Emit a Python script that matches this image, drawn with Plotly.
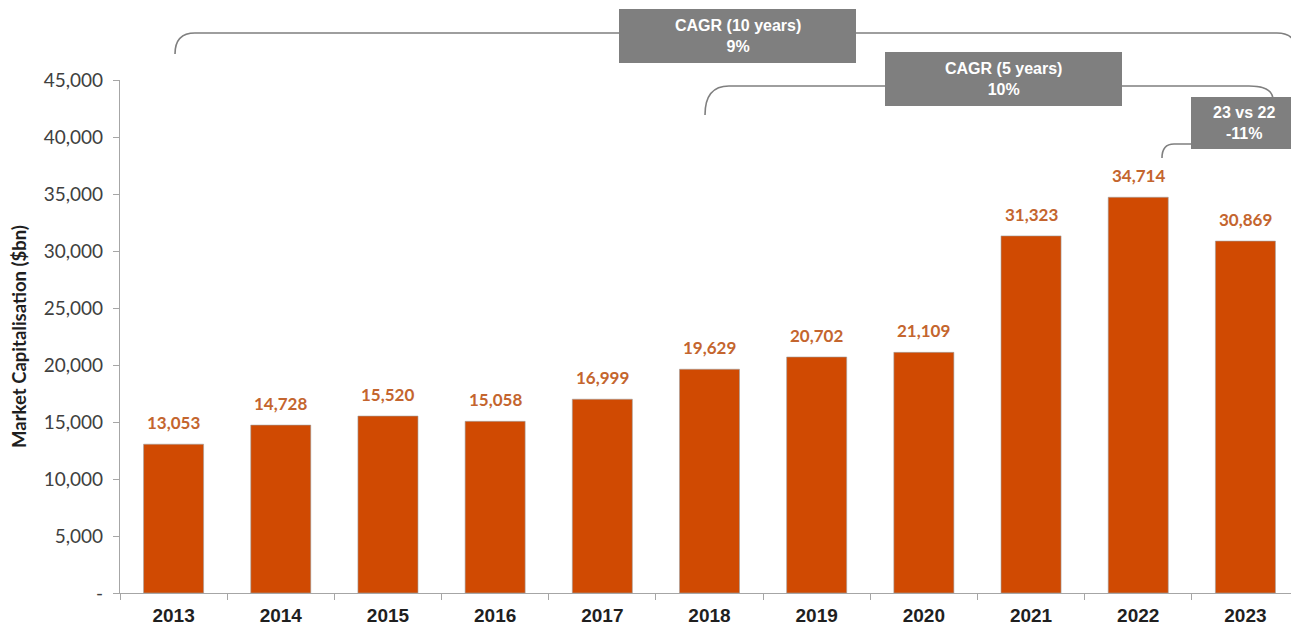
import plotly.graph_objects as go

years = ["2013", "2014", "2015", "2016", "2017", "2018", "2019", "2020", "2021", "2022", "2023"]
market_cap = [13053, 14728, 15520, 15058, 16999, 19629, 20702, 21109, 31323, 34714, 30869]
y_ticks = [0, 5000, 10000, 15000, 20000, 25000, 30000, 35000, 40000, 45000]
y_tick_text = ["-", "5,000", "10,000", "15,000", "20,000", "25,000", "30,000", "35,000", "40,000", "45,000"]
box_titles = ["CAGR (10 years)", "CAGR (5 years)", "23 vs 22"]
box_values = ["9%", "10%", "-11%"]

OFF = 8  # page body margin
W, H = 1299 - OFF, 625 - OFF
L, R, T, B = 112, 0, 72, 32
PW, PH = W - L - R, H - T - B

def px(x):
    return (x - OFF - L) / PW

def py(y):
    return (H - B - (y - OFF)) / PH

BAR = "#D04A02"
LABEL = "#C4652E"
GREY = "#7F7F7F"
CAL = "Lato, Open Sans, sans-serif"
ARIAL = "Liberation Sans, Arial, sans-serif"
NARROW = "Liberation Sans Narrow, Arial Narrow, Liberation Sans, sans-serif"

fig = go.Figure()
fig.add_trace(go.Bar(
    x=years, y=market_cap, width=0.56,
    marker=dict(color=BAR, line=dict(color="#A0A0A0", width=0.6)),
    hoverinfo="skip",
))

annotations = []
for i, v in enumerate(market_cap):
    annotations.append(dict(
        x=i, y=v, xref="x", yref="y", text=f"{v:,}", showarrow=False,
        yanchor="bottom", yshift=9,
        font=dict(family=CAL, size=17, color=LABEL, weight="bold"),
    ))

shapes = []

def bracket(x0, x1, ybot_l, ybot_r, ytop, r):
    pts = [
        ("M", [(x0, ybot_l)]),
        ("Q", [(x0, ytop), (x0 + r, ytop)]),
        ("L", [(x1 - r, ytop)]),
        ("Q", [(x1, ytop), (x1, ybot_r)]),
    ]
    path = ""
    for cmd, ps in pts:
        path += cmd + " " + " ".join(f"{px(a):.5f},{py(b):.5f}" for a, b in ps) + " "
    shapes.append(dict(type="path", path=path.strip(), xref="paper", yref="paper",
                       line=dict(color=GREY, width=1.6)))

bracket(175, 1297, 54, 54, 33, 20)
bracket(705, 1273, 115, 100, 86, 24)
bracket(1162, 1320, 158, 158, 144, 12)

boxes = [(619, 856, 9, 63), (885, 1122, 52, 106), (1191, 1297, 97, 149)]
for (x0, x1, y0, y1), t1, t2 in zip(boxes, box_titles, box_values):
    shapes.append(dict(type="rect", xref="paper", yref="paper",
                       x0=px(x0), x1=px(x1), y0=py(y1), y1=py(y0),
                       fillcolor=GREY, line=dict(width=0)))
    annotations.append(dict(
        x=px((x0 + x1) / 2), y=py((y0 + y1) / 2), xref="paper", yref="paper",
        text=f"{t1}<br>{t2}", showarrow=False, xanchor="center", yanchor="middle",
        font=dict(family=NARROW, size=16, color="white", weight="bold"),
        align="center",
    ))

fig.update_layout(
    width=W, height=H,
    margin=dict(l=L, r=R, t=T, b=B, pad=0),
    plot_bgcolor="white", paper_bgcolor="white",
    showlegend=False, bargap=0.44,
    annotations=annotations, shapes=shapes,
    xaxis=dict(
        type="category", range=[-0.5, 10.5], showline=True, linecolor="#A6A6A6", linewidth=1.2,
        ticks="outside", ticklen=6, tickcolor="#A6A6A6", tickson="boundaries",
        ticklabelstandoff=5,
        showgrid=False, zeroline=False,
        tickfont=dict(family=ARIAL, size=19, color="#1F1F1F", weight="bold"),
        fixedrange=True,
    ),
    yaxis=dict(
        range=[0, 45000], tickvals=y_ticks, ticktext=y_tick_text,
        showline=True, linecolor="#A6A6A6", linewidth=1.2,
        ticks="outside", ticklen=6, tickcolor="#A6A6A6",
        ticklabelstandoff=6,
        showgrid=False, zeroline=False,
        tickfont=dict(family=CAL, size=19, color="#404040"),
        title=dict(text="Market Capitalisation ($bn)", standoff=14,
                   font=dict(family=CAL, size=18.5, color="#1F1F1F", weight="bold")),
        fixedrange=True,
    ),
)

fig.write_html("out.html", config={"displayModeBar": False})
